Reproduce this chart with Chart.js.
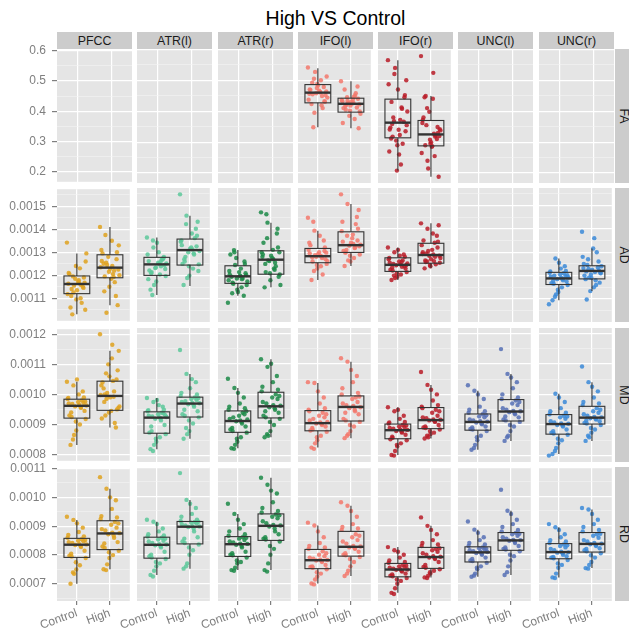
<!DOCTYPE html>
<html>
<head>
<meta charset="utf-8">
<script src="https://cdn.jsdelivr.net/npm/chart.js@4.4.0/dist/chart.umd.min.js"></script>
<style>
  body { margin: 0; background: #fff; width: 629px; height: 631px; overflow: hidden; position: relative;
         font-family: "Liberation Sans", Arial, sans-serif; }
  canvas { position: absolute; }
  .title { position: absolute; left: 57px; width: 557px; top: 7px; text-align: center; font-size: 19.5px; color: #000; }
  .strip { position: absolute; background: #CCCCCC; color: #1A1A1A; font-size: 12.4px;
           display: flex; align-items: center; justify-content: center; }
  .strip.side span { transform: rotate(90deg); white-space: nowrap; }
</style>
</head>
<body>
<div class="title">High VS Control</div>
<script>
// facets
const tracts = ['PFCC', 'ATR(l)', 'ATR(r)', 'IFO(l)', 'IFO(r)', 'UNC(l)', 'UNC(r)'];
const measures = ['FA', 'AD', 'MD', 'RD'];
const groups = ['Control', 'High'];
const colors = ['#DFA21E', '#5CC89A', '#1C8A48', '#F3786C', '#B81C28', '#5670B5', '#3B8AD8'];

// y axes (FA in 1e-3, AD/MD/RD in 1e-6)
const yMin = [168, 1002, 779, 641];
const yMax = [601, 1574, 1217, 1101];
const majorTicks = [
  [200, 300, 400, 500, 600],
  [1100, 1200, 1300, 1400, 1500],
  [800, 900, 1000, 1100, 1200],
  [700, 800, 900, 1000, 1100]
];
const minorTicks = [
  [250, 350, 450, 550],
  [1050, 1150, 1250, 1350, 1450, 1550],
  [850, 950, 1050, 1150],
  [650, 750, 850, 950, 1050]
];
const unitScale = [1e-3, 1e-6, 1e-6, 1e-6];
const decimals = [1, 4, 4, 4];

// box stats per tract: [Control, High], each [lower whisker, q1, median, q3, upper whisker]
const boxFA = [null, null, null,
  [[348, 427, 460, 486, 539], [345, 397, 424, 442, 497]],
  [[208, 314, 363, 439, 565], [188, 288, 325, 370, 449]],
  null, null];
const boxAD = [
  [[1030, 1120, 1162, 1197, 1295], [1070, 1189, 1233, 1289, 1410]],
  [[1117, 1201, 1248, 1278, 1363], [1156, 1245, 1309, 1356, 1456]],
  [[1114, 1167, 1197, 1242, 1309], [1150, 1206, 1268, 1306, 1426]],
  [[1181, 1255, 1283, 1316, 1392], [1241, 1299, 1330, 1387, 1506]],
  [[1181, 1218, 1246, 1276, 1320], [1231, 1253, 1288, 1338, 1423]],
  null,
  [[1095, 1162, 1188, 1214, 1273], [1134, 1186, 1220, 1242, 1316]]];
const boxMD = [
  [[832, 921, 962, 984, 1042], [890, 947, 995, 1044, 1145]],
  [[821, 873, 924, 943, 988], [855, 926, 970, 991, 1067]],
  [[824, 876, 913, 946, 1021], [860, 923, 961, 1007, 1115]],
  [[826, 881, 906, 947, 1037], [857, 913, 959, 995, 1107]],
  [[802, 855, 883, 903, 958], [856, 888, 916, 957, 1031]],
  [[819, 883, 910, 936, 1012], [848, 913, 944, 983, 1067]],
  [[805, 870, 903, 934, 1002], [848, 903, 924, 961, 1040]]];
const boxRD = [
  [[701, 792, 836, 858, 922], [751, 819, 875, 919, 1030]],
  [[730, 788, 834, 860, 913], [752, 837, 896, 914, 988]],
  [[747, 794, 836, 862, 940], [747, 849, 899, 940, 1064]],
  [[701, 752, 781, 818, 900], [727, 795, 827, 880, 968]],
  [[669, 724, 749, 770, 826], [722, 753, 792, 825, 899]],
  [[724, 775, 808, 827, 886], [730, 815, 849, 876, 951]],
  [[722, 786, 809, 838, 894], [754, 809, 837, 876, 955]]];

// subject values per tract: [Control, High]
const ptsFA = [null, null, null,
  [[541, 462, 455, 430, 488, 470, 449, 395, 512, 466, 423, 478, 458, 437, 500, 348, 452, 483, 469, 410, 527, 444, 461, 492, 432, 475, 456, 419, 505, 464],
   [497, 428, 405, 440, 418, 362, 451, 433, 399, 425, 470, 412, 385, 436, 447, 421, 345, 430, 410, 458, 426, 392, 439, 417, 480, 402, 432, 375, 445, 422]],
  [[565, 372, 318, 452, 290, 341, 408, 520, 355, 260, 430, 366, 305, 487, 228, 380, 335, 470, 347, 295, 540, 399, 323, 359, 445, 208, 270, 412, 368, 500, 340, 312],
   [578, 524, 449, 330, 295, 372, 318, 240, 342, 287, 445, 310, 398, 265, 327, 355, 188, 300, 380, 322, 215, 338, 440, 290, 349, 308, 362, 255, 410, 320, 285]],
  null, null];
const ptsAD = [
  [[1342, 1165, 1140, 1190, 1095, 1210, 1158, 1125, 1260, 1172, 1060, 1150, 1185, 1118, 1230, 1030, 1168, 1135, 1205, 1080, 1155, 1295, 1178, 1110, 1145, 1240, 1163, 1100, 1195, 1050],
   [1410, 1240, 1195, 1300, 1150, 1262, 1220, 1037, 1330, 1185, 1250, 1110, 1280, 1235, 1205, 1375, 1070, 1228, 1295, 1170, 1245, 1200, 1350, 1130, 1270, 1215, 1310, 1192, 1255, 1225]],
  [[1363, 1250, 1215, 1280, 1175, 1262, 1240, 1320, 1198, 1255, 1140, 1270, 1232, 1290, 1205, 1117, 1245, 1340, 1222, 1268, 1160, 1252, 1300, 1210, 1275, 1235, 1185, 1258, 1350, 1228],
   [1547, 1312, 1260, 1370, 1200, 1330, 1290, 1456, 1248, 1320, 1160, 1400, 1300, 1345, 1230, 1280, 1430, 1315, 1250, 1360, 1190, 1305, 1380, 1270, 1325, 1240, 1350, 1295, 1420, 1220]],
  [[1084, 1200, 1170, 1250, 1140, 1205, 1185, 1300, 1160, 1215, 1195, 1114, 1275, 1180, 1230, 1165, 1210, 1130, 1290, 1190, 1245, 1175, 1198, 1125, 1260, 1188, 1220, 1150, 1309, 1202],
   [1470, 1270, 1215, 1320, 1180, 1290, 1255, 1426, 1205, 1275, 1150, 1380, 1262, 1300, 1230, 1462, 1195, 1285, 1340, 1240, 1265, 1160, 1310, 1250, 1400, 1210, 1280, 1225, 1360, 1300]],
  [[1447, 1285, 1260, 1320, 1230, 1295, 1275, 1392, 1250, 1300, 1181, 1350, 1280, 1310, 1240, 1430, 1270, 1290, 1330, 1205, 1287, 1262, 1370, 1278, 1305, 1245, 1340, 1282, 1220, 1298],
   [1547, 1335, 1300, 1400, 1260, 1345, 1320, 1506, 1290, 1360, 1241, 1450, 1328, 1390, 1275, 1310, 1480, 1340, 1305, 1420, 1265, 1332, 1375, 1298, 1350, 1285, 1430, 1318, 1370, 1325]],
  [[1320, 1248, 1222, 1280, 1195, 1255, 1238, 1300, 1215, 1260, 1181, 1290, 1244, 1270, 1205, 1250, 1230, 1310, 1225, 1265, 1190, 1252, 1285, 1235, 1240, 1210, 1275, 1258, 1200, 1245],
   [1423, 1290, 1258, 1345, 1240, 1300, 1280, 1400, 1255, 1310, 1231, 1370, 1285, 1330, 1262, 1295, 1415, 1270, 1350, 1248, 1305, 1275, 1380, 1265, 1320, 1245, 1292, 1340, 1260, 1285]],
  null,
  [[1078, 1190, 1165, 1220, 1130, 1195, 1180, 1273, 1160, 1205, 1095, 1240, 1185, 1212, 1150, 1200, 1175, 1255, 1168, 1210, 1120, 1192, 1230, 1178, 1198, 1140, 1218, 1186, 1110, 1202],
   [1387, 1360, 1098, 1222, 1190, 1250, 1160, 1228, 1210, 1316, 1185, 1235, 1134, 1280, 1215, 1245, 1170, 1225, 1200, 1300, 1192, 1240, 1150, 1218, 1260, 1205, 1232, 1180, 1270, 1212]]];
const ptsMD = [
  [[1042, 965, 925, 990, 880, 970, 955, 1030, 918, 975, 832, 1010, 960, 985, 900, 968, 945, 1050, 930, 980, 865, 963, 1000, 940, 972, 910, 988, 958, 850, 976],
   [1200, 1165, 1000, 950, 1060, 920, 1010, 985, 1145, 945, 1020, 890, 1100, 998, 1045, 930, 1080, 990, 1040, 905, 1005, 960, 1120, 975, 1050, 940, 1030, 992, 1070, 955]],
  [[988, 925, 880, 950, 845, 930, 915, 975, 870, 935, 821, 960, 920, 945, 860, 928, 900, 982, 875, 940, 835, 926, 965, 895, 938, 855, 948, 922, 815, 932],
   [1145, 972, 930, 1000, 880, 975, 960, 1067, 925, 985, 855, 1040, 968, 995, 905, 978, 945, 1020, 935, 990, 870, 971, 1050, 950, 982, 915, 1005, 965, 890, 988]],
  [[1051, 915, 880, 955, 845, 920, 905, 1021, 875, 930, 824, 990, 912, 950, 860, 925, 895, 1005, 885, 940, 835, 918, 970, 890, 935, 855, 960, 910, 822, 945],
   [1115, 965, 925, 1015, 880, 975, 950, 1090, 920, 990, 860, 1060, 958, 1010, 900, 970, 940, 1100, 930, 1000, 865, 963, 1040, 945, 985, 910, 1025, 955, 870, 995]],
  [[1040, 908, 885, 955, 850, 915, 900, 1037, 878, 930, 826, 990, 905, 950, 865, 920, 895, 1010, 882, 940, 840, 910, 970, 890, 925, 860, 945, 903, 822, 935],
   [1118, 962, 915, 1005, 880, 970, 945, 1107, 910, 985, 857, 1060, 955, 1000, 895, 965, 935, 1080, 920, 990, 870, 958, 1040, 940, 975, 900, 1020, 950, 865, 993]],
  [[958, 885, 858, 910, 830, 890, 875, 945, 850, 895, 802, 930, 880, 905, 840, 888, 868, 950, 853, 900, 815, 884, 920, 862, 893, 835, 908, 878, 800, 898],
   [1073, 918, 890, 965, 870, 925, 910, 1031, 885, 940, 856, 1000, 915, 960, 875, 922, 900, 1015, 892, 950, 860, 917, 980, 895, 930, 880, 955, 912, 865, 945]],
  [[1030, 912, 885, 945, 850, 918, 902, 1012, 880, 928, 819, 985, 908, 940, 865, 915, 895, 1000, 887, 935, 835, 911, 960, 892, 925, 860, 950, 905, 825, 932],
   [1148, 946, 915, 990, 880, 955, 935, 1067, 910, 970, 848, 1040, 942, 985, 895, 950, 925, 1055, 918, 980, 865, 945, 1020, 928, 965, 900, 1000, 938, 860, 975]],
  [[800, 905, 872, 940, 840, 912, 895, 1002, 868, 925, 805, 975, 900, 935, 850, 908, 885, 990, 875, 930, 825, 904, 955, 880, 920, 855, 945, 898, 815, 928],
   [1091, 926, 905, 970, 875, 935, 918, 1040, 900, 945, 848, 1010, 922, 965, 885, 930, 912, 1025, 907, 955, 860, 925, 990, 915, 940, 890, 975, 920, 865, 950]]];
const ptsRD = [
  [[933, 838, 795, 865, 750, 845, 828, 922, 790, 850, 701, 895, 835, 860, 765, 842, 815, 910, 798, 855, 735, 837, 880, 805, 848, 775, 870, 832, 740, 852],
   [1070, 878, 825, 930, 790, 890, 860, 1030, 815, 905, 751, 990, 872, 925, 800, 885, 845, 1000, 830, 915, 768, 876, 960, 840, 895, 810, 935, 868, 748, 910]],
  [[920, 836, 790, 866, 760, 845, 825, 913, 785, 852, 730, 890, 832, 862, 770, 840, 810, 905, 795, 858, 745, 835, 880, 800, 848, 775, 870, 830, 725, 855],
   [1080, 898, 840, 920, 800, 905, 880, 988, 835, 910, 752, 960, 895, 916, 815, 900, 860, 975, 845, 912, 770, 897, 940, 855, 908, 825, 930, 890, 760, 913]],
  [[975, 838, 798, 870, 770, 845, 825, 940, 790, 855, 747, 905, 834, 865, 775, 842, 810, 920, 800, 860, 755, 837, 890, 805, 850, 780, 880, 830, 745, 858],
   [1064, 902, 852, 950, 800, 915, 880, 1040, 845, 930, 747, 1010, 897, 945, 820, 908, 870, 1020, 855, 938, 770, 900, 980, 860, 925, 830, 960, 890, 742, 935]],
  [[910, 783, 755, 825, 725, 790, 775, 900, 750, 800, 701, 860, 780, 820, 735, 786, 765, 880, 758, 812, 715, 782, 840, 760, 795, 740, 830, 778, 698, 805],
   [980, 830, 798, 890, 760, 845, 820, 968, 792, 860, 727, 930, 825, 885, 775, 838, 810, 950, 800, 870, 745, 828, 905, 805, 850, 785, 895, 822, 735, 865]],
  [[826, 750, 726, 775, 700, 755, 742, 815, 720, 760, 669, 800, 748, 772, 710, 752, 735, 810, 728, 765, 685, 749, 790, 732, 758, 715, 780, 745, 665, 762],
   [928, 795, 755, 835, 735, 805, 785, 899, 750, 815, 722, 870, 790, 830, 745, 800, 775, 885, 758, 820, 728, 793, 850, 765, 810, 740, 840, 788, 720, 822]],
  [[914, 810, 778, 835, 750, 815, 800, 886, 772, 822, 724, 860, 806, 830, 760, 812, 790, 875, 780, 825, 735, 809, 850, 785, 818, 755, 840, 803, 728, 820],
   [1023, 851, 818, 885, 780, 860, 840, 951, 812, 870, 730, 920, 848, 880, 795, 855, 830, 940, 820, 875, 760, 850, 905, 825, 865, 800, 895, 845, 740, 872]],
  [[905, 810, 788, 845, 755, 820, 800, 894, 782, 830, 722, 870, 807, 840, 765, 815, 795, 885, 790, 835, 735, 808, 860, 792, 825, 770, 850, 805, 720, 832],
   [960, 840, 812, 885, 775, 850, 830, 955, 805, 865, 754, 920, 836, 880, 790, 845, 822, 940, 815, 870, 765, 838, 905, 820, 858, 798, 895, 833, 752, 872]]];

const boxes = [boxFA, boxAD, boxMD, boxRD];
const points = [ptsFA, ptsAD, ptsMD, ptsRD];

// panel grid in page pixels
const colLeft = [57, 137, 218, 298, 378, 458, 539];
const rowTop = [49, 188, 328, 467];
const panelW = 75;
const panelH = 134;
const FONT = '"Liberation Sans", Arial, sans-serif';

function withAlpha(hex, a) {
  const n = parseInt(hex.slice(1), 16);
  return `rgba(${(n >> 16) & 255}, ${(n >> 8) & 255}, ${n & 255}, ${a})`;
}

// fixed jitter pattern for x positions
function jitter(i) {
  return (((i * 0.6180339887) % 1) - 0.5) * 0.6;
}

// grey panel background
const panelBg = {
  id: 'panelBg',
  beforeDraw(chart) {
    const a = chart.chartArea;
    const ctx = chart.ctx;
    ctx.save();
    ctx.fillStyle = '#E5E5E5';
    ctx.fillRect(a.left, a.top, a.right - a.left, a.bottom - a.top);
    ctx.restore();
  }
};

// box plots on top of the points
const boxPlot = {
  id: 'boxPlot',
  afterDatasetsDraw(chart, args, opts) {
    if (!opts.stats) return;
    const xs = chart.scales.x, ys = chart.scales.y, ctx = chart.ctx;
    ctx.save();
    ctx.strokeStyle = '#333333';
    opts.stats.forEach((s, g) => {
      const cx = xs.getPixelForValue(g + 1);
      const hw = xs.getPixelForValue(g + 1.39) - cx;
      const [lo, q1, med, q3, hi] = s.map(v => ys.getPixelForValue(v));
      ctx.lineWidth = 1.1;
      ctx.beginPath();
      ctx.moveTo(cx, q3); ctx.lineTo(cx, hi);
      ctx.moveTo(cx, q1); ctx.lineTo(cx, lo);
      ctx.stroke();
      ctx.strokeRect(cx - hw, q3, hw * 2, q1 - q3);
      ctx.lineWidth = 2.4;
      ctx.beginPath();
      ctx.moveTo(cx - hw, med); ctx.lineTo(cx + hw, med);
      ctx.stroke();
    });
    ctx.restore();
  }
};

function makePanel(r, c) {
  const first = c === 0, bottom = r === 3;
  const leftPad = first ? 57 : 34;
  const topPad = 12, botPad = bottom ? 30 : 12;
  const canvas = document.createElement('canvas');
  canvas.width = panelW + leftPad;
  canvas.height = panelH + topPad + botPad;
  canvas.style.left = (colLeft[c] - leftPad) + 'px';
  canvas.style.top = (rowTop[r] - topPad) + 'px';
  document.body.appendChild(canvas);

  const pts = points[r][c];
  const datasets = [];
  if (pts) {
    pts.forEach((vals, g) => {
      datasets.push({
        data: vals.map((v, i) => ({ x: g + 1 + jitter(i), y: v })),
        backgroundColor: withAlpha(colors[c], 0.85),
        borderWidth: 0,
        pointRadius: 2.2,
        pointHoverRadius: 2.2
      });
    });
  }
  const isMajor = v => majorTicks[r].includes(v);
  const yTicks = majorTicks[r].concat(minorTicks[r]).sort((a, b) => a - b);

  new Chart(canvas, {
    type: 'scatter',
    data: { datasets },
    plugins: [panelBg, boxPlot],
    options: {
      responsive: false,
      animation: false,
      events: [],
      layout: { padding: { left: first ? 0 : leftPad, right: 0, top: topPad, bottom: bottom ? 0 : botPad } },
      plugins: {
        legend: { display: false },
        tooltip: { enabled: false },
        boxPlot: { stats: boxes[r][c] }
      },
      scales: {
        x: {
          type: 'linear', min: 0.4, max: 2.6,
          afterBuildTicks: s => { s.ticks = [{ value: 1 }, { value: 2 }]; },
          afterFit: s => { s.height = bottom ? botPad : 0; },
          border: { display: false },
          grid: { color: '#FFFFFF', lineWidth: 1.2, drawTicks: bottom, tickLength: 4, tickColor: '#7F7F7F' },
          ticks: {
            display: bottom, autoSkip: false, minRotation: 20, maxRotation: 20, padding: 1,
            color: '#7F7F7F', font: { family: FONT, size: 12 },
            callback: (v, i) => groups[i]
          }
        },
        y: {
          type: 'linear', min: yMin[r], max: yMax[r],
          afterBuildTicks: s => { s.ticks = yTicks.map(v => ({ value: v })); },
          afterFit: s => { s.width = first ? leftPad : 0; },
          border: { display: false },
          grid: {
            color: ctx => (ctx.tick && isMajor(ctx.tick.value)) ? '#FFFFFF' : '#F3F3F3',
            lineWidth: ctx => (ctx.tick && isMajor(ctx.tick.value)) ? 1.2 : 0.6,
            drawTicks: first, tickLength: 5,
            tickColor: ctx => (ctx.tick && isMajor(ctx.tick.value)) ? '#7F7F7F' : 'rgba(0,0,0,0)'
          },
          ticks: {
            display: first, autoSkip: false, padding: 6, color: '#7F7F7F', font: { family: FONT, size: 12 },
            callback: v => isMajor(v) ? (v * unitScale[r]).toFixed(decimals[r]) : ''
          }
        }
      }
    }
  });
}

// strips
function addStrip(text, left, top, w, h, side) {
  const d = document.createElement('div');
  d.className = 'strip' + (side ? ' side' : '');
  d.style.left = left + 'px'; d.style.top = top + 'px';
  d.style.width = w + 'px'; d.style.height = h + 'px';
  const s = document.createElement('span');
  s.textContent = text;
  d.appendChild(s);
  document.body.appendChild(d);
}

tracts.forEach((t, c) => addStrip(t, colLeft[c], 32, panelW, 17, false));
measures.forEach((m, r) => addStrip(m, 615, rowTop[r], 17, panelH, true));

for (let r = 0; r < measures.length; r++) {
  for (let c = 0; c < tracts.length; c++) makePanel(r, c);
}
</script>
</body>
</html>
